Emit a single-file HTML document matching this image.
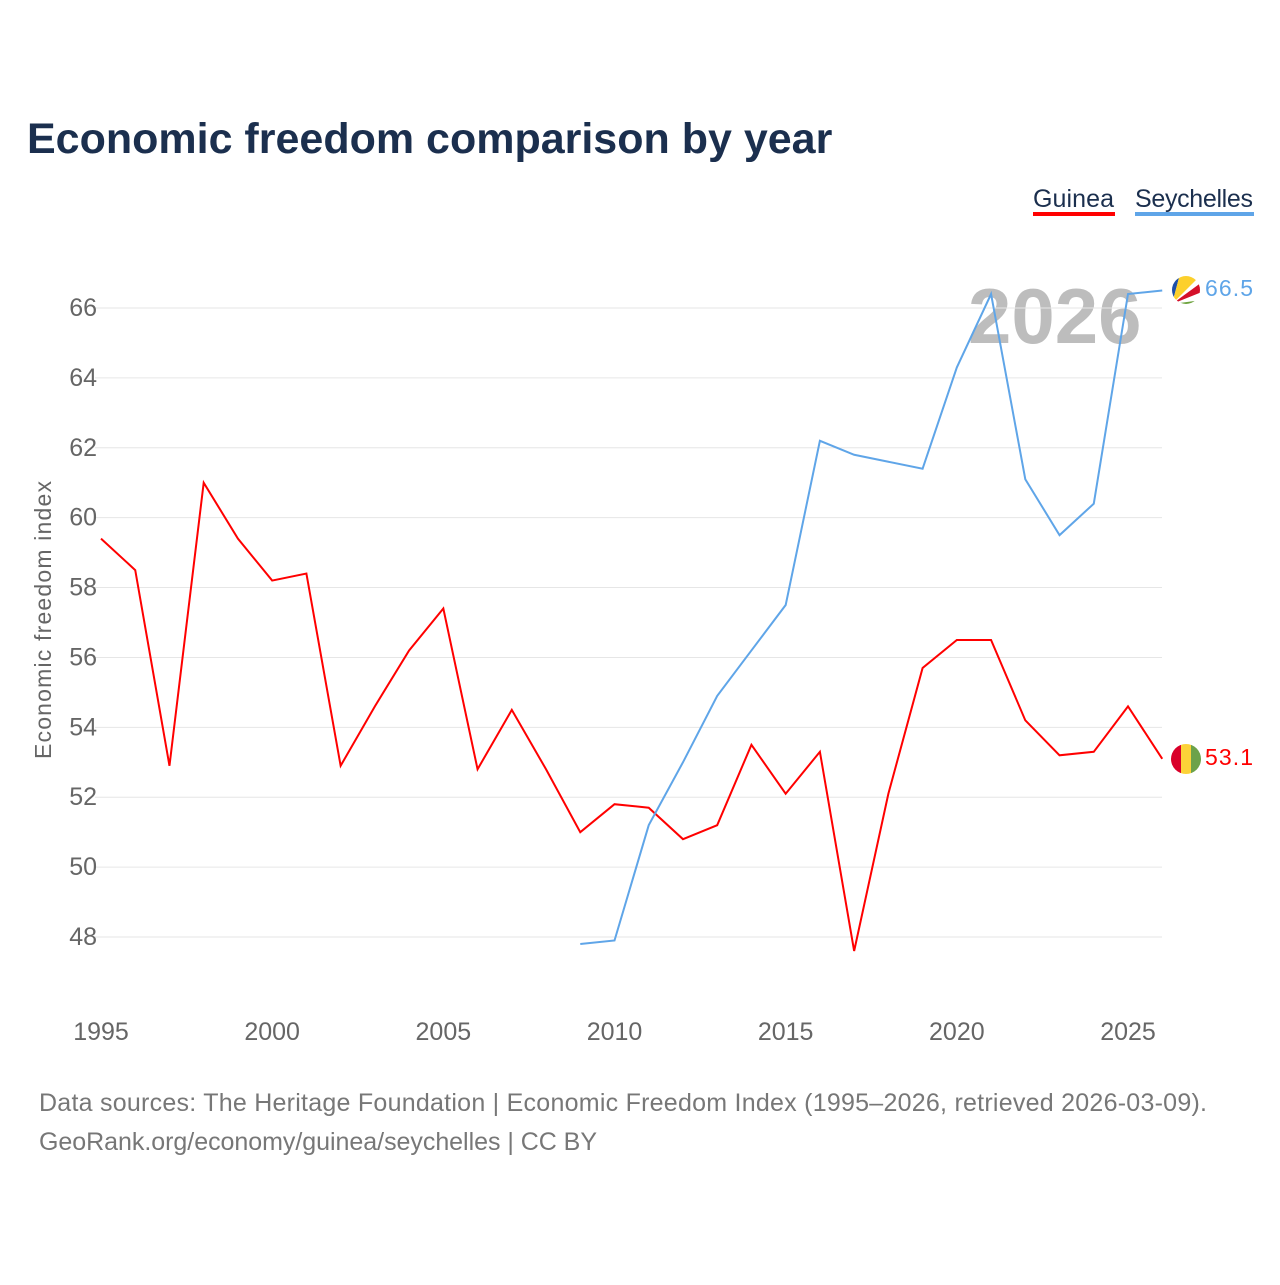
<!DOCTYPE html>
<html><head><meta charset="utf-8"><style>
body{margin:0;background:#fff;font-family:"Liberation Sans",sans-serif}
svg text{font-family:"Liberation Sans",sans-serif}
</style></head><body>
<svg id="chart" width="1280" height="1280" xmlns="http://www.w3.org/2000/svg">
<rect width="1280" height="1280" fill="#fff"/>
<text x="27" y="153" font-size="43" font-weight="bold" fill="#1b2f4e">Economic freedom comparison by year</text>
<g><text x="1033" y="207" font-size="25" fill="#1b2f4e" textLength="81">Guinea</text><rect x="1033" y="212" width="82" height="4" fill="#ff0000"/></g>
<g><text x="1135" y="207" font-size="25" fill="#1b2f4e" textLength="118">Seychelles</text><rect x="1135" y="212" width="119" height="4" fill="#5fa5e8"/></g>
<text x="968" y="343" font-size="78" font-weight="bold" fill="#bdbdbd">2026</text>
<g id="grid"></g><g id="xt"></g><g id="lines"></g>
<text transform="translate(51,620) rotate(-90)" text-anchor="middle" font-size="23" fill="#666" textLength="278">Economic freedom index</text>
<text x="39" y="1111" font-size="25" fill="#777" textLength="1168">Data sources: The Heritage Foundation | Economic Freedom Index (1995–2026, retrieved 2026-03-09).</text>
<text x="39" y="1150" font-size="25" fill="#777" textLength="558">GeoRank.org/economy/guinea/seychelles | CC BY</text>
<g>
<clipPath id="cs"><circle cx="1186" cy="290" r="14"/></clipPath>
<g clip-path="url(#cs)"><rect x="1170" y="274" width="32" height="32" fill="#fff"/>
<polygon points="1172,304 1172,274 1180,274" fill="#1c4ea8"/>
<polygon points="1172,304 1180,274 1202,274" fill="#fcd02c"/>
<polygon points="1172,304 1202,282 1202,292" fill="#d5102a"/>
<polygon points="1172,304 1202,300 1202,306 1172,306" fill="#6ca23c"/></g></g>
<g>
<clipPath id="cg"><circle cx="1186" cy="759" r="15"/></clipPath>
<g clip-path="url(#cg)"><rect x="1171" y="744" width="10" height="30" fill="#d9002a"/><rect x="1181" y="744" width="10" height="30" fill="#fcd238"/><rect x="1191" y="744" width="10" height="30" fill="#6ca24a"/></g></g>
<text x="1205" y="296" font-size="23" fill="#5fa5e8" textLength="48">66.5</text>
<text x="1205" y="765" font-size="23" fill="#ff0000" textLength="48">53.1</text>
</svg>
<script>
const years=[1995,1996,1997,1998,1999,2000,2001,2002,2003,2004,2005,2006,2007,2008,2009,2010,2011,2012,2013,2014,2015,2016,2017,2018,2019,2020,2021,2022,2023,2024,2025,2026];
const guinea=[59.4,58.5,52.9,61.0,59.4,58.2,58.4,52.9,54.6,56.2,57.4,52.8,54.5,52.8,51.0,51.8,51.7,50.8,51.2,53.5,52.1,53.3,47.6,52.1,55.7,56.5,56.5,54.2,53.2,53.3,54.6,53.1];
const seyYears=[2009,2010,2011,2012,2013,2014,2015,2016,2017,2018,2019,2020,2021,2022,2023,2024,2025,2026];
const seychelles=[47.8,47.9,51.2,53.0,54.9,56.2,57.5,62.2,61.8,61.6,61.4,64.3,66.4,61.1,59.5,60.4,66.4,66.5];
const yTicks=[48,50,52,54,56,58,60,62,64,66];
const xTicks=[1995,2000,2005,2010,2015,2020,2025];
const NS="http://www.w3.org/2000/svg";
const x=v=>101+(v-1995)*(1128-101)/30;
const y=v=>308+(66-v)*(937-308)/18;
const grid=document.getElementById('grid'),xt=document.getElementById('xt'),lines=document.getElementById('lines');
yTicks.forEach(t=>{
 const l=document.createElementNS(NS,'line');
 
 
 l.setAttribute('x1',95);l.setAttribute('x2',1162);l.setAttribute('y1',y(t));l.setAttribute('y2',y(t));
 l.setAttribute('stroke','#e6e6e6');l.setAttribute('stroke-width',1);grid.appendChild(l);
 const tx=document.createElementNS(NS,'text');
 
 
 tx.setAttribute('x',97);tx.setAttribute('y',y(t)+8);tx.setAttribute('text-anchor','end');
 tx.setAttribute('font-size',25);tx.setAttribute('fill','#666');tx.textContent=t;grid.appendChild(tx);
});
xTicks.forEach(t=>{
 const tx=document.createElementNS(NS,'text');
 
 
 tx.setAttribute('x',x(t));tx.setAttribute('y',1040);tx.setAttribute('text-anchor','middle');
 tx.setAttribute('font-size',25);tx.setAttribute('fill','#666');tx.textContent=t;xt.appendChild(tx);
});
function line(xs,vs,c,name){
 const p=document.createElementNS(NS,'polyline');
 
 
 p.setAttribute('points',xs.map((yr,i)=>x(yr)+','+y(vs[i])).join(' '));
 p.setAttribute('fill','none');p.setAttribute('stroke',c);p.setAttribute('stroke-width',2);
 lines.appendChild(p);
}
line(years,guinea,'#ff0000','guinea-line');
line(seyYears,seychelles,'#5fa5e8','seychelles-line');
</script>
</body></html>
